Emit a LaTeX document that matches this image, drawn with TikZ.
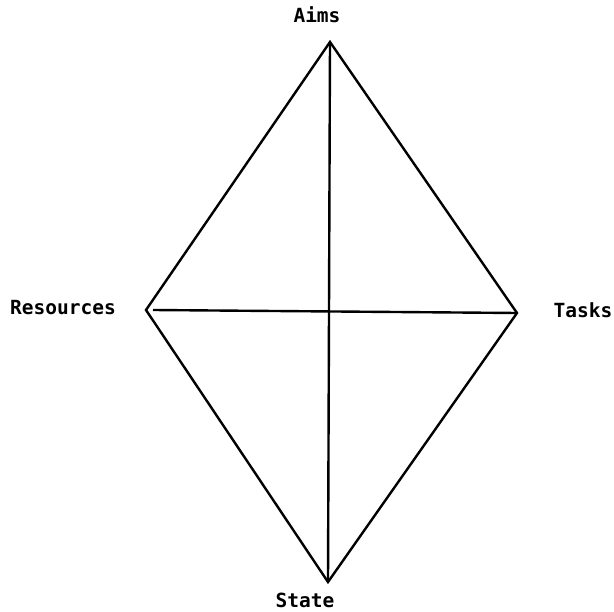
\documentclass[tikz,border=0pt]{standalone}
\usepackage{fontspec}
\newfontfamily\labelfont{DejaVu Sans Mono}
\begin{document}
\begin{tikzpicture}[x=1pt,y=-1pt,
  lbl/.style={font=\labelfont\bfseries\fontsize{19.5}{21}\selectfont, inner sep=0pt},
  edge/.style={line width=2.4pt, line join=miter}]
\useasboundingbox (0,0) rectangle (614,612);
\coordinate (A) at (330,42);
\coordinate (T) at (517,313);
\coordinate (S) at (328,582);
\coordinate (R) at (146,310);
\coordinate (Rh) at (153,310);
\draw[edge] (A) -- (T) -- (S) -- (R) -- cycle;
\draw[edge] (A) -- (S);
\draw[edge] (Rh) -- (T);
\node[lbl] (aims) at (317,15) {Aims};
\node[lbl] (state) at (305,600) {State};
\node[lbl] (res) at (63,308) {Resources};
\node[lbl] (tasks) at (583,310) {Tasks};
\end{tikzpicture}
\end{document}
